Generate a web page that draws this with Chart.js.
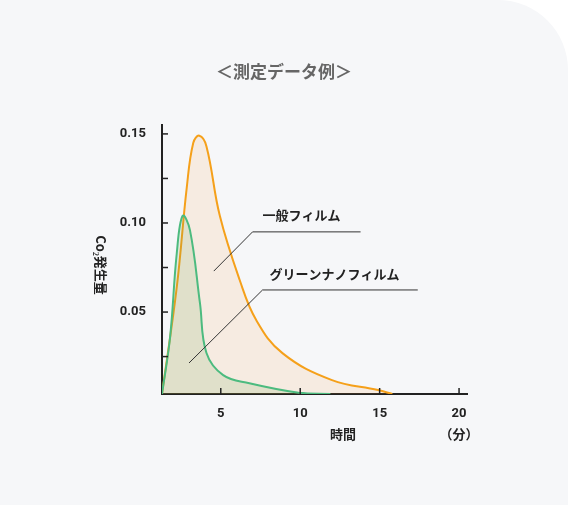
<!DOCTYPE html>
<html>
<head>
<meta charset="utf-8">
<script src="https://cdn.jsdelivr.net/npm/chart.js@4"></script>
<style>
  body{margin:0;background:#fff;}
  #wrap{width:568px;height:505px;background:#f6f7f9;border-top-right-radius:70px;position:relative;}
</style>
</head>
<body>
<div id="wrap"><canvas id="myChart" width="568" height="505"></canvas></div>
<script>
var normalTime = [1.3, 2.23, 2.86, 3.27, 3.65, 4.1, 4.94, 6.19, 7.23, 8.9, 12.0, 14.9, 15.8];
var normalCo2 = [0.004, 0.064, 0.120, 0.145, 0.149, 0.143, 0.104, 0.068, 0.0455, 0.0268, 0.0118, 0.0062, 0.004];
var greenTime = [1.3, 1.81, 2.23, 2.6, 3.06, 3.69, 4.1, 5.15, 6.8, 9.9, 11.9];
var greenCo2 = [0.004, 0.036, 0.083, 0.104, 0.096, 0.055, 0.027, 0.0146, 0.010, 0.0047, 0.004];
var xTicks = [5, 10, 15, 20];
var yTicks = [0.025, 0.05, 0.075, 0.10, 0.125, 0.15];
var labels = ["一般フィルム", "グリーンナノフィルム"];
// leader lines: [text x, text y, start x, start y, corner x, corner y, end x]
var leaders = [
  [7.63, 0.1045, 4.56, 0.073, 7.0, 0.095, 13.8],
  [8.06, 0.0714, 3.0, 0.0214, 7.63, 0.0624, 17.4]
];

function pts(xs, ys){
  var out = [];
  for (var i in xs) out.push({x: xs[i], y: ys[i]});
  return out;
}

var decor = {
  id: 'decor',
  afterDraw: function(chart){
    var c = chart.ctx, xs = chart.scales.x, ys = chart.scales.y, a = chart.chartArea;
    c.save();
    c.strokeStyle = '#222'; c.lineWidth = 1.5;
    yTicks.forEach(function(v){
      var py = ys.getPixelForValue(v);
      c.beginPath(); c.moveTo(a.left, py); c.lineTo(a.left + 6, py); c.stroke();
    });
    xTicks.forEach(function(v){
      var px = xs.getPixelForValue(v);
      c.beginPath(); c.moveTo(px, a.bottom); c.lineTo(px, a.bottom - 6); c.stroke();
    });
    c.strokeStyle = '#333'; c.lineWidth = 1;
    c.fillStyle = '#222'; c.font = 'bold 13px "Noto Sans CJK JP"';
    c.textBaseline = 'middle';
    leaders.forEach(function(l, i){
      c.beginPath();
      c.moveTo(xs.getPixelForValue(l[2]), ys.getPixelForValue(l[3]));
      c.lineTo(xs.getPixelForValue(l[4]), ys.getPixelForValue(l[5]));
      c.lineTo(xs.getPixelForValue(l[6]), ys.getPixelForValue(l[5]));
      c.stroke();
      c.fillText(labels[i], xs.getPixelForValue(l[0]), ys.getPixelForValue(l[1]));
    });
    c.font = 'bold 13px "Noto Sans CJK JP"';
    c.textAlign = 'center';
    c.fillText('時間', 343, 434);
    c.fillText('（分）', 459, 434);
    c.translate(101, 265); c.rotate(Math.PI / 2);
    c.fillText('Co₂発生量', 0, 0);
    c.restore();
    c.save();
    c.fillStyle = '#666'; c.font = 'bold 17px "Noto Sans CJK JP"';
    c.textAlign = 'center'; c.textBaseline = 'middle';
    c.fillText('＜測定データ例＞', 284, 72);
    c.restore();
  }
};

var ctx = document.getElementById('myChart');
new Chart(ctx, {
  type: 'line',
  data: {
    datasets: [{
      label: labels[1],
      data: pts(greenTime, greenCo2),
      borderColor: '#4cbb7f',
      backgroundColor: 'rgba(110,160,80,0.16)',
      fill: 'origin',
      borderWidth: 2,
      tension: 0.4,
      pointRadius: 0
    }, {
      label: labels[0],
      data: pts(normalTime, normalCo2),
      borderColor: '#f5a01a',
      backgroundColor: 'rgba(245,150,40,0.11)',
      fill: 'origin',
      borderWidth: 2,
      tension: 0.4,
      pointRadius: 0
    }]
  },
  options: {
    responsive: false,
    animation: false,
    layout: {padding: {top: 125, right: 101, left: 0, bottom: 0}},
    plugins: {legend: {display: false}, tooltip: {enabled: false}},
    scales: {
      x: {
        type: 'linear', min: 1.3, max: 20.5,
        afterBuildTicks: function(s){ s.ticks = xTicks.map(function(v){ return {value: v}; }); },
        afterFit: function(s){ s.height = 111; },
        grid: {display: false},
        border: {color: '#222', width: 2},
        ticks: {color: '#222', font: {size: 13, weight: 'bold', family: 'Roboto'}, padding: 4}
      },
      y: {
        min: 0.004, max: 0.155,
        afterBuildTicks: function(s){ s.ticks = yTicks.map(function(v){ return {value: v}; }); },
        afterFit: function(s){ s.width = 162; },
        grid: {display: false},
        border: {color: '#222', width: 2},
        ticks: {
          color: '#222', font: {size: 13, weight: 'bold', family: 'Roboto'}, padding: 8,
          callback: function(v){ return Math.abs(v * 20 - Math.round(v * 20)) < 1e-6 ? v.toFixed(2) : ''; }
        }
      }
    }
  },
  plugins: [decor]
});
</script>
</body>
</html>
